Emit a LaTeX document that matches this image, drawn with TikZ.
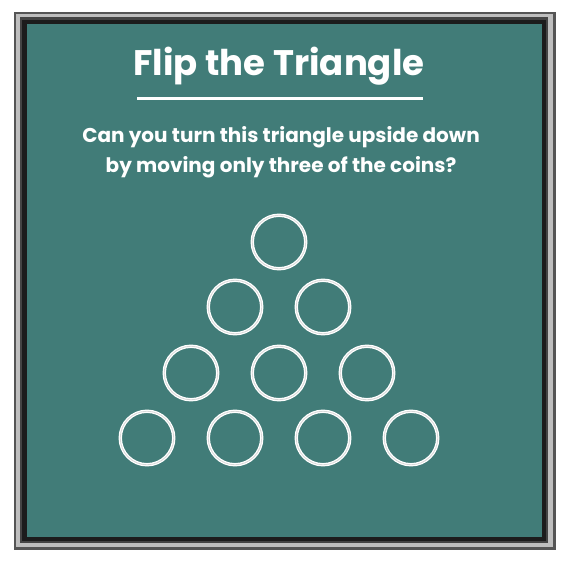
\documentclass[tikz,border=0pt]{standalone}
\usepackage{fontspec}
\setmainfont{Poppins}
\usepackage{tikz}

\definecolor{board}{HTML}{417C78}
\definecolor{rim}{HTML}{555555}
\definecolor{rimlight}{HTML}{BEBEBE}
\definecolor{rimdark}{HTML}{1C1C1C}

\tikzset{
  coin/.style={circle, draw=white, line width=1.3pt, double=white!70!gray, double distance=0.8pt,
               minimum size=53.5pt, inner sep=0pt},
  heading/.style={text=white, font=\fontsize{35.5}{40}\selectfont\bfseries},
  question/.style={text=white, align=center, font=\fontsize{20}{30}\selectfont\bfseries}
}

\begin{document}
\begin{tikzpicture}[x=1pt, y=-1pt]
	\useasboundingbox (0,0) rectangle (570,562);
	\fill[white] (0,0) rectangle (570,562);
	% board frame
	\fill[rim] (14,12) rectangle (556,550);
	\fill[rimlight] (16,14) rectangle (553,547);
	\fill[rim!80!black] (20,17) rectangle (548,543);
	\fill[rimdark] (22,20) rectangle (546,541);
	\fill[board] (27,24) rectangle (542,537);
	% texts
	\node[heading] (title) at (279,66) {Flip the Triangle};
	\draw[white, line width=3pt] (137,98) -- (423,98);
	\node[question] (ask) at (281,152) {Can you turn this triangle upside down\\by moving only three of the coins?};
	% coins
	\node[coin] (c1) at (279,242) {};
	\node[coin] (c2) at (235,307) {};
	\node[coin] (c3) at (323,307) {};
	\node[coin] (c4) at (191,373) {};
	\node[coin] (c5) at (279,373) {};
	\node[coin] (c6) at (367,373) {};
	\node[coin] (c7) at (147,438) {};
	\node[coin] (c8) at (235,438) {};
	\node[coin] (c9) at (323,438) {};
	\node[coin] (c10) at (411,438) {};
\end{tikzpicture}
\end{document}
